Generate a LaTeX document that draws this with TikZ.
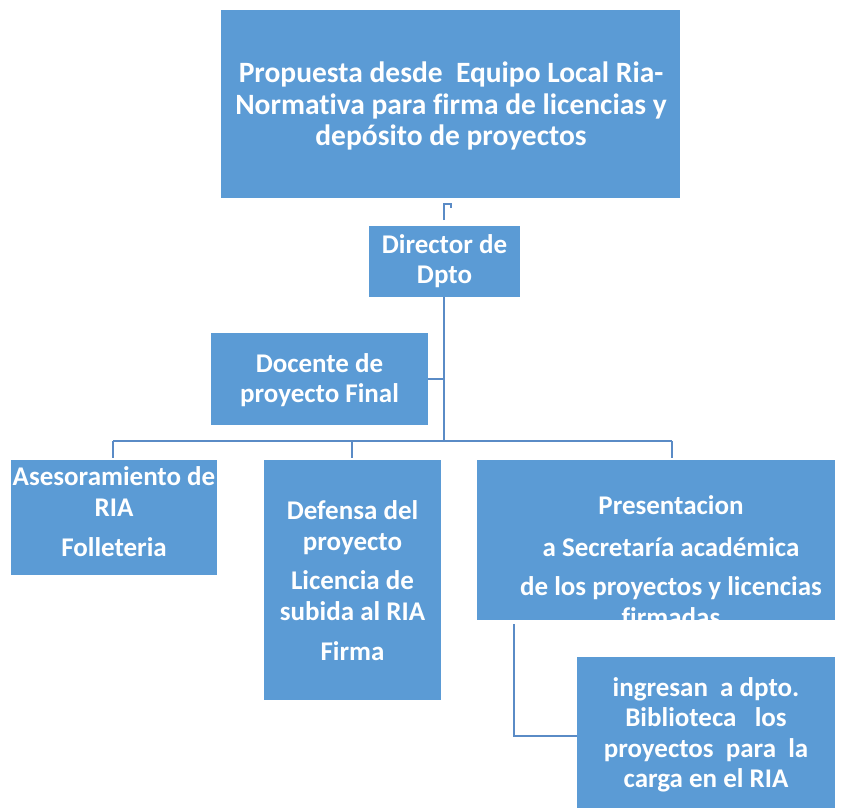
\documentclass[tikz,border=0pt]{standalone}
\usepackage{fontspec}
\setmainfont{Carlito}[Ligatures=NoCommon]
\definecolor{boxblue}{HTML}{5B9BD5}
\definecolor{lineblue}{HTML}{5A8BC6}

\tikzset{
  orgbox/.style={fill=boxblue, inner sep=0pt, anchor=north west},
  boxtext/.style={text=white, font=\bfseries\fontsize{27}{30.5}\selectfont, align=center, inner sep=0pt},
  link/.style={draw=lineblue, line width=2.5pt}
}

\begin{document}
\begin{tikzpicture}[x=1pt, y=-1pt]
  \useasboundingbox (0,0) rectangle (853,808);

  % boxes
  \node[orgbox, minimum width=459pt, minimum height=188pt] (propuesta) at (221,10) {};
  \node[boxtext, font=\bfseries\fontsize{29.5}{31.5}\selectfont] (propuestatxt) at (451,106)
    {Propuesta desde \ Equipo Local Ria-\\Normativa para firma de licencias y\\depósito de proyectos};

  \node[orgbox, minimum width=151pt, minimum height=71pt] (director) at (369,226) {};
  \node[boxtext] (directortxt) at (444.5,261) {Director de\\Dpto};

  \node[orgbox, minimum width=217pt, minimum height=92pt] (docente) at (211,333) {};
  \node[boxtext] (docentetxt) at (319.5,380) {Docente de\\proyecto Final};

  \node[orgbox, minimum width=206pt, minimum height=115pt] (asesor) at (11,460) {};
  \node[boxtext] (asesortxt) at (114,512) {Asesoramiento de\\RIA\\[10pt]Folleteria};

  \node[orgbox, minimum width=177pt, minimum height=240pt] (defensa) at (264,460) {};
  \node[boxtext] (defensatxt) at (352.5,581)
    {Defensa del\\proyecto\\[9pt]Licencia de\\subida al RIA\\[10pt]Firma};

  \node[orgbox, minimum width=358pt, minimum height=160pt] (presenta) at (477,460) {};
  \begin{scope}
    \clip (presenta.north west) rectangle (presenta.south east);
    \node[boxtext] (presentatxt) at (671,561)
      {Presentacion\\[11pt] a Secretaría académica\\[9pt] de los proyectos y licencias\\firmadas};
  \end{scope}

  \node[orgbox, minimum width=258pt, minimum height=151pt] (ingresan) at (577,657) {};
  \node[boxtext] (ingresantxt) at (706,735)
    {ingresan \ a dpto.\\Biblioteca \ \ los\\proyectos \ para \ la\\carga en el RIA};

  % connectors
  \coordinate (hook) at (444,220);
  \draw[link] (hook) -- (444,204) -- (451,204) -- (451,208);
  \coordinate (split) at (444,441);
  \draw[link] (director.south -| split) -- (split);
  \draw[link] (docente.east) -- (docente.east -| split);
  \draw[link] (113,441) -- (672,441);
  \draw[link] (113,441) -- (113,458);
  \draw[link] (352,441) -- (352,458);
  \draw[link] (672,441) -- (672,458);
  \coordinate (drop) at (514,624);
  \draw[link, line width=2pt] (drop) |- (ingresan.west |- 0,736);
\end{tikzpicture}
\end{document}
